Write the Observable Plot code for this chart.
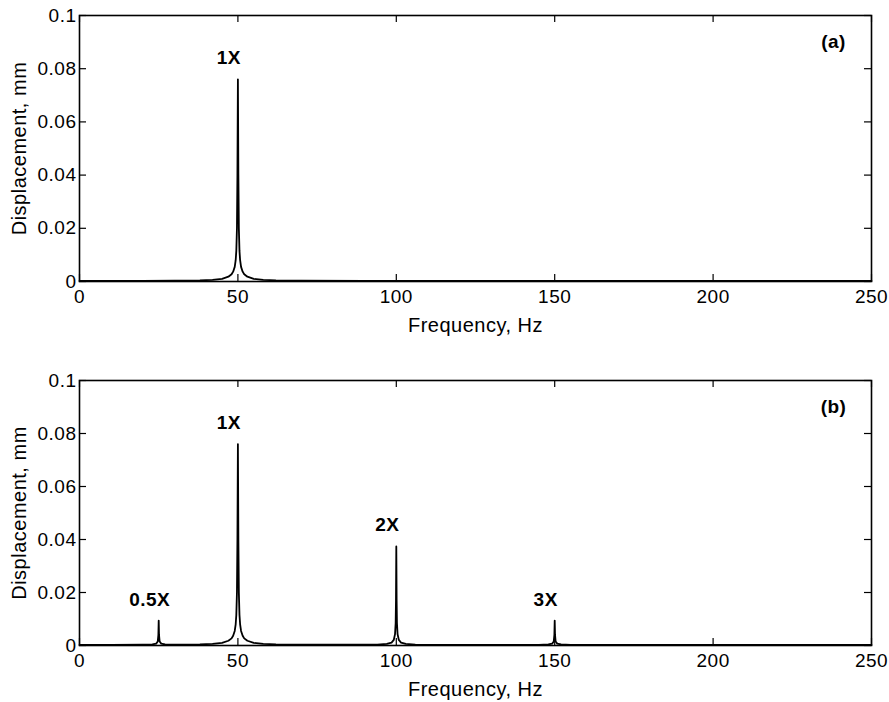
<!DOCTYPE html>
<html>
<head>
<meta charset="utf-8">
<script src="https://cdn.jsdelivr.net/npm/d3@7"></script>
<script src="https://cdn.jsdelivr.net/npm/@observablehq/plot@0.6"></script>
<style>
  html, body { margin: 0; padding: 0; background: white; }
  #chart svg { display: block; }
  #chart text { letter-spacing: 0.5px; }
  #chart g[aria-label="x-axis label"] text,
  #chart g[aria-label="y-axis label"] text { letter-spacing: 0.5px; font-size: 20px; }
</style>
</head>
<body>
<div id="chart"></div>
<script>
// ---- data ----
const xTicks = [0, 50, 100, 150, 200, 250];
const yTicks = [0, 0.02, 0.04, 0.06, 0.08, 0.1];

// Panel (a): spectrum, frequency (Hz) and displacement (mm)
const freqA = [0, 10, 20, 30, 38, 42, 45, 47, 48, 48.5, 49, 49.3, 49.5, 49.7, 49.85, 50,
  50.15, 50.3, 50.5, 50.7, 51, 51.5, 52, 53, 55, 58, 62, 70, 90, 150, 200, 250];
const ampA = [0.0002, 0.0002, 0.0002, 0.0003, 0.0004, 0.0006, 0.001, 0.0018, 0.0027, 0.0037, 0.0055, 0.008, 0.0115, 0.02, 0.04, 0.076,
  0.04, 0.02, 0.0115, 0.008, 0.0055, 0.0037, 0.0027, 0.0018, 0.001, 0.0006, 0.0004, 0.0003, 0.0002, 0.0002, 0.0002, 0.0002];

// Panel (b)
const freqB = [0, 10, 20, 23, 24.2, 24.7, 24.9, 25, 25.1, 25.3, 25.8, 27, 30,
  38, 42, 45, 47, 48, 48.5, 49, 49.3, 49.5, 49.7, 49.85, 50,
  50.15, 50.3, 50.5, 50.7, 51, 51.5, 52, 53, 55, 58, 62, 70, 85,
  94, 97, 98.5, 99.2, 99.6, 99.8, 99.9, 100, 100.1, 100.2, 100.4, 100.8, 101.5, 103, 106, 120,
  145, 148, 149.2, 149.7, 149.9, 150, 150.1, 150.3, 150.8, 152, 155, 200, 250];
const ampB = [0.0002, 0.0002, 0.0003, 0.0004, 0.0007, 0.0015, 0.004, 0.0094, 0.004, 0.0015, 0.0007, 0.0004, 0.0003,
  0.0004, 0.0006, 0.001, 0.0018, 0.0027, 0.0037, 0.0055, 0.008, 0.0115, 0.02, 0.04, 0.076,
  0.04, 0.02, 0.0115, 0.008, 0.0055, 0.0037, 0.0027, 0.0018, 0.001, 0.0006, 0.0004, 0.0003, 0.0003,
  0.0003, 0.0006, 0.0011, 0.0021, 0.0043, 0.0085, 0.017, 0.0374, 0.017, 0.0085, 0.0043, 0.0021, 0.0011, 0.0006, 0.0003, 0.0002,
  0.0002, 0.0004, 0.0007, 0.0015, 0.004, 0.0094, 0.004, 0.0015, 0.0007, 0.0004, 0.0002, 0.0002, 0.0002];

// Peak annotations
const peakNamesA = ["1X"];
const peakFreqA = [50];
const peakAmpA = [0.076];
const peakNamesB = ["0.5X", "1X", "2X", "3X"];
const peakFreqB = [25, 50, 100, 150];
const peakAmpB = [0.0094, 0.076, 0.0374, 0.0094];

const panelTags = ["(a)", "(b)"];
const xLabel = "Frequency, Hz";
const yLabel = "Displacement, mm";

// ---- drawing ----
const W = 889;
function panel(freq, amp, names, pf, pa, tag, opts) {
  const series = freq.map((f, i) => ({f, a: amp[i]}));
  const peaks = names.map((n, i) => ({n, f: pf[i], a: pa[i]}));
  const H = opts.height, mt = opts.marginTop, mb = opts.marginBottom, ml = 79, mr = 18;
  const ph = H - mt - mb, pw = W - ml - mr, tl = 7;
  return Plot.plot({
    width: W, height: H,
    marginTop: mt, marginBottom: mb, marginLeft: ml, marginRight: mr,
    style: {fontFamily: "'Liberation Sans', Arial, Helvetica, sans-serif", fontSize: "19px", color: "black", background: "white"},
    x: {domain: [0, 250]},
    y: {domain: [0, 0.1]},
    marks: [
      Plot.axisX({ticks: xTicks, tickSize: 0, tickPadding: 8, tickFormat: d => String(d),
        label: xLabel, labelAnchor: "center", labelArrow: "none", labelOffset: 50}),
      Plot.axisY({ticks: yTicks, tickSize: 0, tickPadding: 3, tickFormat: d => d === 0 ? "0" : String(+d.toFixed(2)),
        label: yLabel, labelAnchor: "center", labelArrow: "none", labelOffset: 68}),
      // inward ticks on all four sides
      Plot.ruleX(xTicks, {x: d => d, insetTop: ph - tl, stroke: "black", strokeWidth: 1.2}),
      Plot.ruleX(xTicks, {x: d => d, insetBottom: ph - tl, stroke: "black", strokeWidth: 1.2}),
      Plot.ruleY(yTicks, {y: d => d, insetRight: pw - tl, stroke: "black", strokeWidth: 1.2}),
      Plot.ruleY(yTicks, {y: d => d, insetLeft: pw - tl, stroke: "black", strokeWidth: 1.2}),
      Plot.line(series, {x: "f", y: "a", stroke: "black", strokeWidth: 1.8, curve: "linear"}),
      Plot.frame({stroke: "black", strokeWidth: 1.6}),
      Plot.text(peaks, {x: "f", y: "a", text: "n", dx: -9, dy: -21, fontWeight: "bold", fontSize: 19, textAnchor: "middle", lineAnchor: "middle", fill: "black"}),
      Plot.text([tag], {text: d => d, frameAnchor: "top-right", dx: -38, dy: 26, textAnchor: "middle", lineAnchor: "middle", fontWeight: "bold", fontSize: 19, fill: "black"})
    ]
  });
}

const chart = document.getElementById("chart");
chart.appendChild(panel(freqA, ampA, peakNamesA, peakFreqA, peakAmpA, panelTags[0], {height: 351, marginTop: 15, marginBottom: 70}));
chart.appendChild(panel(freqB, ampB, peakNamesB, peakFreqB, peakAmpB, panelTags[1], {height: 351, marginTop: 29, marginBottom: 57}));
</script>
</body>
</html>
